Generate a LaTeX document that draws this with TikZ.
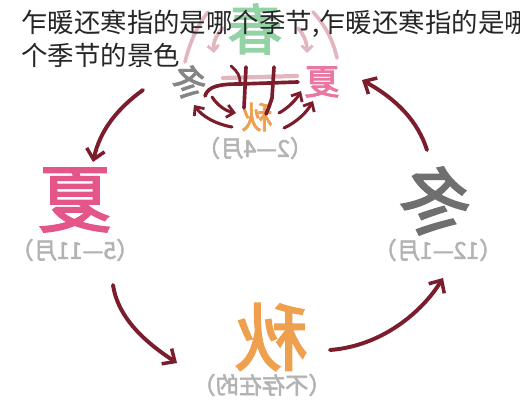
\documentclass[tikz,border=0pt]{standalone}
\usepackage{fontspec}
\usetikzlibrary{arrows.meta}
\usetikzlibrary{positioning}
\newfontfamily\cjk{Noto Sans CJK SC}
\newfontfamily\cjkbold[FakeBold=2.5]{Noto Sans CJK SC}
\definecolor{cycred}{HTML}{7B1D2C}
\definecolor{palepink}{HTML}{E2B6BE}
\definecolor{springgreen}{HTML}{94D3A6}
\definecolor{summerpink}{HTML}{E4558A}
\definecolor{wintergray}{HTML}{6F6F6F}
\definecolor{autumnorange}{HTML}{EFA04E}
\definecolor{labelgray}{HTML}{B3B3B3}

\begin{document}
\begin{tikzpicture}[x=0.025cm,y=-0.025cm,
    season/.style={inner sep=0pt,xscale=-1,font=\cjkbold\fontsize{52}{52}\selectfont},
    smallseason/.style={inner sep=0pt,xscale=-1,font=\cjkbold\fontsize{25}{25}\selectfont},
    monthlabel/.style={inner sep=0pt,xscale=-1,text=labelgray,font=\cjkbold\fontsize{16.5}{16.5}\selectfont},
    cycle/.style={draw=cycred,line width=2.8pt,line cap=round,-{Straight Barb[length=7pt,width=13pt,line width=2.5pt]}},
    swirl/.style={draw=cycred,line width=2.2pt,line cap=round,-{Straight Barb[length=5pt,width=9pt,line width=2pt]}},
    faint/.style={draw=palepink,line width=2.6pt,line cap=round}]
  \useasboundingbox (0,0) rectangle (520,400);
  \clip (0,0) rectangle (520,400);
  \fill[white] (0,0) rectangle (520,400);

  % seasons
  \node[season,text=springgreen,font=\cjkbold\fontsize{39}{39}\selectfont] (chun) at (255,29) {春};
  \node[season,text=summerpink] (xia) at (75,200) {夏};
  \node[season,text=wintergray] (dong) at (435,201) {冬};
  \node[season,text=autumnorange] (qiu) at (271,337) {秋};
  \node[monthlabel] (chunlabel) at (255,148) {（2—4月）};
  \node[monthlabel] (xialabel) at (75,250) {（5—11月）};
  \node[monthlabel] (donglabel) at (438,250) {（12—1月）};
  \node[monthlabel] (qiulabel) at (262,385) {（不存在的）};

  % the small jumble under chun
  \node[smallseason,text=wintergray!85] (dongs) at (189,82) {冬};
  \node[smallseason,text=summerpink!80] (xias) at (322,82) {夏};
  \node[smallseason,text=autumnorange,font=\cjkbold\fontsize{22}{22}\selectfont] (qius) at (257,117) {秋};

  % big cycle
  \coordinate (a1) at (143,90);  \coordinate (b1) at (93,162);
  \coordinate (a2) at (427,150); \coordinate (b2) at (362,80);
  \coordinate (a3) at (113,285); \coordinate (b3) at (177,363);
  \coordinate (a4) at (330,350); \coordinate (b4) at (443,278);
  \draw[cycle] (a1) .. controls (118,108) and (100,130) .. (b1);
  \draw[cycle] (a2) .. controls (418,122) and (398,100) .. (b2);
  \draw[cycle] (a3) .. controls (118,318) and (145,342) .. (b3);
  \draw[cycle] (a4) .. controls (382,346) and (422,312) .. (b4);

  % faint arcs round chun
  \coordinate (p1) at (185,62); \coordinate (q1) at (208,12);
  \coordinate (p2) at (313,12); \coordinate (q2) at (337,58);
  \draw[faint] (p1) .. controls (190,42) and (197,26) .. (q1);
  \draw[faint] (p2) .. controls (325,25) and (333,40) .. (q2);
  \draw[faint,-{Straight Barb[length=4pt,width=8pt,line width=2pt]}] (223,28) .. controls (215,36) and (213,44) .. (214,53);
  \draw[faint,-{Straight Barb[length=4pt,width=8pt,line width=2pt]}] (298,28) .. controls (305,36) and (307,44) .. (307,53);
  \draw[faint,line width=3pt] (223,78) -- (297,76);

  % scribble
  \draw[cycred,line width=2.6pt,line cap=round] (205,96) .. controls (208,86) and (220,84) .. (240,84) -- (298,82);
  \draw[cycred,line width=2.6pt,line cap=round] (246,67) -- (244,108);
  \draw[cycred,line width=2.6pt,line cap=round] (274,67) -- (272,98) .. controls (270,104) and (268,110) .. (266,114);
  \draw[cycred,line width=2pt,line cap=round] (231,66) .. controls (238,72) and (240,76) .. (240,82);

  % small arrows
  \draw[swirl] (212,97) .. controls (218,106) and (226,111) .. (236,113);
  \draw[swirl] (232,127) .. controls (215,124) and (202,116) .. (194,105);
  \draw[swirl] (279,113) .. controls (288,108) and (296,100) .. (301,91);
  \draw[swirl] (284,128) .. controls (297,122) and (307,112) .. (313,101);

  % caption on top
  \node[anchor=north west,inner sep=0pt,align=left,text=black!85,
        font=\cjk\fontsize{18.8}{23}\selectfont] (caption) at (21,10)
        {乍暖还寒指的是哪个季节,乍暖还寒指的是哪\\个季节的景色};
\end{tikzpicture}
\end{document}
